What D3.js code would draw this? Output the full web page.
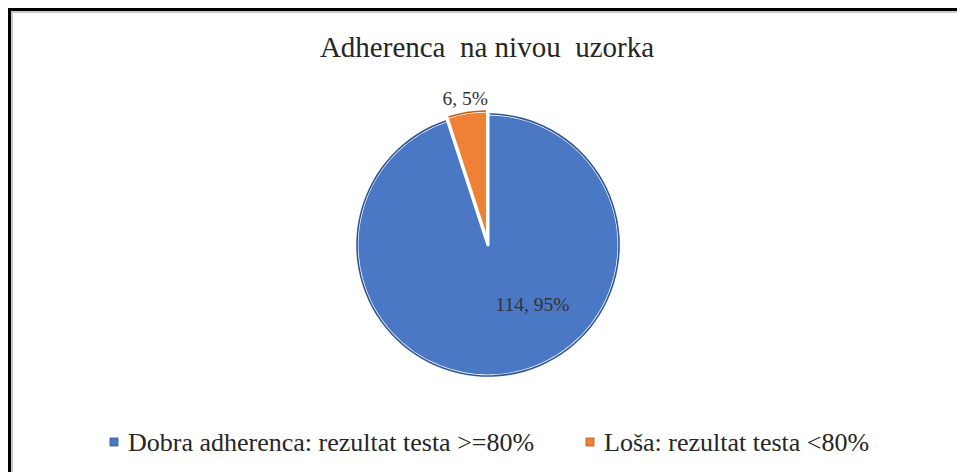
<!DOCTYPE html>
<html>
<head>
<meta charset="utf-8">
<script src="https://cdn.jsdelivr.net/npm/d3@7"></script>
<style>
  body { margin: 0; background: #fff; }
</style>
</head>
<body>
<svg id="chart"></svg>
<script>
// data
var categories = ["Dobra adherenca: rezultat testa >=80%", "Loša: rezultat testa <80%"];
var counts = [114, 6];
var percents = ["95%", "5%"];
var colors = ["#4a78c4", "#ee8136"];
var edgeColors = ["#2f5597", "#c55a11"];
var title = "Adherenca  na nivou  uzorka";

var width = 957, height = 472;
var serif = "'Liberation Serif', 'Times New Roman', serif";

var svg = d3.select("#chart")
    .attr("width", width)
    .attr("height", height);

// frame of the chart (only top and left edge are in the crop)
svg.append("rect")
    .attr("x", 11).attr("y", 11)
    .attr("width", width).attr("height", 2)
    .attr("fill", "#c8c8c8");
svg.append("rect")
    .attr("x", 11).attr("y", 11)
    .attr("width", 2).attr("height", height)
    .attr("fill", "#c8c8c8");
svg.append("rect")
    .attr("x", 8).attr("y", 8)
    .attr("width", width).attr("height", 3)
    .attr("fill", "#000");
svg.append("rect")
    .attr("x", 8).attr("y", 8)
    .attr("width", 3).attr("height", height)
    .attr("fill", "#000");

// title
svg.append("text")
    .attr("x", 487)
    .attr("y", 57)
    .attr("text-anchor", "middle")
    .style("font-family", serif)
    .style("font-size", "29px")
    .style("white-space", "pre")
    .attr("fill", "#262626")
    .text(title);

var cx = 488, cy = 245, r = 131;

var pie = d3.pie().sort(null).value(function(d) { return d; });
var arcs = pie(counts);

var arc = d3.arc().innerRadius(0).outerRadius(r);
var outerLabelArc = d3.arc().innerRadius(r + 14).outerRadius(r + 14);

function pull(d, i) {
  // small slice pulled out a touch like excel does
  if (i === 0) return null;
  var a = (d.startAngle + d.endAngle) / 2;
  return "translate(" + (Math.sin(a) * 3) + "," + (-Math.cos(a) * 3) + ")";
}

var g = svg.append("g")
    .attr("transform", "translate(" + cx + "," + cy + ")");

g.selectAll("path.slice")
    .data(arcs)
  .enter().append("path")
    .attr("class", "slice")
    .attr("transform", pull)
    .attr("d", arc)
    .attr("fill", function(d, i) { return colors[i]; })
    .attr("stroke", "#fff")
    .attr("stroke-width", 3)
    .attr("stroke-linejoin", "round");

// thin darker rim on the outside of each slice
var rim = d3.arc().innerRadius(r - 0.8).outerRadius(r + 0.8);
g.selectAll("path.rim")
    .data(arcs)
  .enter().append("path")
    .attr("class", "rim")
    .attr("transform", pull)
    .attr("d", function(d) {
      return rim({ startAngle: d.startAngle + 0.012, endAngle: d.endAngle - 0.012 });
    })
    .attr("fill", function(d, i) { return edgeColors[i]; });

// data labels: big slice inside, small slice outside
g.selectAll("text.lbl")
    .data(arcs)
  .enter().append("text")
    .attr("class", "lbl")
    .attr("text-anchor", "middle")
    .style("font-family", serif)
    .style("font-size", "19.5px")
    .attr("fill", "#333")
    .attr("transform", function(d, i) {
      var p;
      if (i === 0) {
        // excel's best fit puts it below-right of the middle
        var a = d.startAngle + (d.endAngle - d.startAngle) * 0.42;
        p = [Math.sin(a) * r * 0.56, -Math.cos(a) * r * 0.56];
        return "translate(" + (p[0] + 1) + "," + (p[1] + 7) + ")";
      }
      p = outerLabelArc.centroid(d);
      return "translate(" + p[0] + "," + (p[1] + 3) + ")";
    })
    .text(function(d, i) { return counts[i] + ", " + percents[i]; });

// legend
var legend = svg.append("g").attr("class", "legend");
var legendX = [110, 586];
var item = legend.selectAll("g")
    .data(categories)
  .enter().append("g")
    .attr("transform", function(d, i) { return "translate(" + legendX[i] + ",451)"; });

item.append("rect")
    .attr("x", 0).attr("y", -13)
    .attr("width", 8).attr("height", 8)
    .attr("fill", function(d, i) { return colors[i]; })
    .attr("stroke", function(d, i) { return edgeColors[i]; })
    .attr("stroke-width", 0.8);

item.append("text")
    .attr("x", 18)
    .attr("y", 0)
    .style("font-family", serif)
    .style("font-size", "26px")
    .attr("fill", "#262626")
    .text(function(d) { return d; });
</script>
</body>
</html>
